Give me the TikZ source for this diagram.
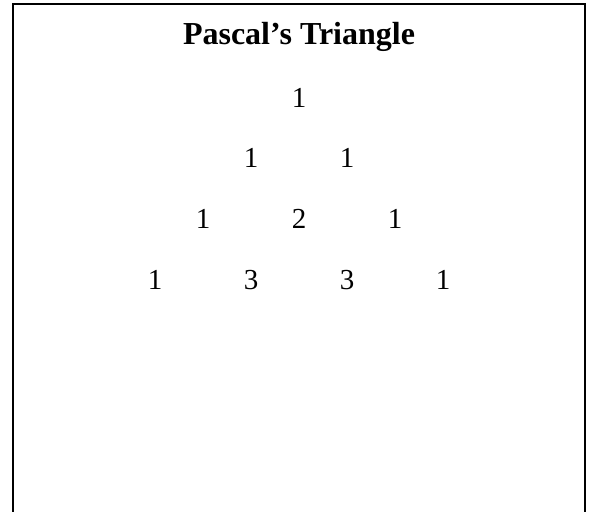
\documentclass[tikz,border=0pt]{standalone}
\usepackage{fontspec}
\setmainfont{Liberation Serif}
\tikzset{num/.style={anchor=base, inner sep=0pt, font=\fontsize{29}{34}\selectfont}}

\begin{document}
\begin{tikzpicture}[x=1pt,y=-1pt]
\useasboundingbox (0,0) rectangle (590,512);
\draw[black, line width=2pt] (13,512) -- (13,4) -- (585,4) -- (585,512);
\node[anchor=base, inner sep=0pt, font=\bfseries\fontsize{32}{37}\selectfont] (title) at (299,44) {Pascal’s Triangle};
\node[num] (r0a) at (299,107) {1};
\node[num] (r1a) at (251,167) {1};
\node[num] (r1b) at (347,167) {1};
\node[num] (r2a) at (203,228) {1};
\node[num] (r2b) at (299,228) {2};
\node[num] (r2c) at (395,228) {1};
\node[num] (r3a) at (155,289) {1};
\node[num] (r3b) at (251,289) {3};
\node[num] (r3c) at (347,289) {3};
\node[num] (r3d) at (443,289) {1};
%\node[num] (r4a) at (107,350) {1};
\end{tikzpicture}
\end{document}
